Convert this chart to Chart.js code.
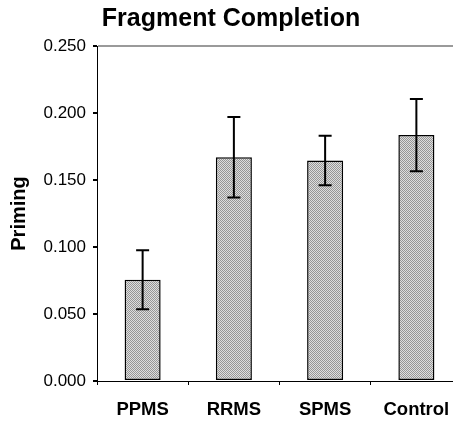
<!DOCTYPE html>
<html>
<head>
<meta charset="utf-8">
<script src="https://cdn.jsdelivr.net/npm/chart.js@4"></script>
<style>
  html, body { margin: 0; padding: 0; background: #fff; overflow: hidden; }
  #wrap { width: 453px; height: 421px; overflow: hidden; }
  #box { width: 470px; height: 421px; }
</style>
</head>
<body>
<div id="wrap"><div id="box"><canvas id="chart1"></canvas></div></div>
<script>
const groups = ['PPMS', 'RRMS', 'SPMS', 'Control'];
const priming = [0.0755, 0.167, 0.1645, 0.1835];
const errors = [0.022, 0.030, 0.0185, 0.027];
const yTicks = [0, 0.05, 0.1, 0.15, 0.2, 0.25];

// dithered grey fill like the original
const pc = document.createElement('canvas');
pc.width = 2; pc.height = 2;
const px = pc.getContext('2d');
px.fillStyle = '#dedede'; px.fillRect(0, 0, 2, 2);
px.fillStyle = '#969696'; px.fillRect(0, 0, 1, 1); px.fillRect(1, 1, 1, 1);
const fill = px.createPattern(pc, 'repeat');

const errorBars = {
  id: 'errorBars',
  afterDatasetsDraw(chart) {
    const c = chart.ctx;
    const y = chart.scales.y;
    const meta = chart.getDatasetMeta(0);
    c.save();
    c.strokeStyle = '#000';
    c.lineWidth = 2;
    meta.data.forEach((bar, i) => {
      const top = y.getPixelForValue(priming[i] + errors[i]);
      const bot = y.getPixelForValue(priming[i] - errors[i]);
      c.beginPath();
      c.moveTo(bar.x, top); c.lineTo(bar.x, bot);
      c.moveTo(bar.x - 6.5, top); c.lineTo(bar.x + 6.5, top);
      c.moveTo(bar.x - 6.5, bot); c.lineTo(bar.x + 6.5, bot);
      c.stroke();
    });
    c.restore();
  }
};

const ctx = document.getElementById('chart1').getContext('2d');
const chart = new Chart(ctx, {
  type: 'bar',
  data: {
    labels: groups,
    datasets: [{
      label: 'Priming',
      data: priming,
      backgroundColor: fill,
      borderColor: '#000',
      borderWidth: 1.5,
      borderSkipped: false,
      categoryPercentage: 1,
      barPercentage: 0.395
    }]
  },
  options: {
    responsive: true,
    maintainAspectRatio: false,
    animation: false,
    layout: { padding: { right: 8 } },
    plugins: {
      legend: { display: false },
      tooltip: { enabled: false },
      title: {
        display: true,
        text: 'Fragment Completion',
        color: '#000',
        font: { family: 'Liberation Sans', size: 25, weight: 'bold' },
        padding: { top: 4, bottom: 12 }
      }
    },
    scales: {
      x: {
        grid: { display: true, drawOnChartArea: false, tickLength: 4, tickColor: '#000', offset: true },
        border: { display: true, color: '#000', width: 1 },
        ticks: {
          color: '#000',
          padding: 14,
          font: { family: 'Liberation Sans', size: 18.5, weight: 'bold' }
        },
        afterFit(s) { s.height = 40; }
      },
      y: {
        min: 0,
        max: 0.25,
        afterBuildTicks(s) { s.ticks = yTicks.map(v => ({ value: v })); },
        grid: {
          drawOnChartArea: true,
          tickLength: 4,
          tickColor: '#000',
          color: c => (c.tick && c.tick.value === 0.25) ? '#9a9a9a' : 'rgba(0,0,0,0)',
          lineWidth: 2
        },
        border: { display: true, color: '#000', width: 1 },
        ticks: {
          color: '#000',
          padding: 7,
          font: { family: 'Liberation Sans', size: 17 },
          callback: v => Number(v).toFixed(3)
        },
        title: {
          display: true,
          text: 'Priming',
          color: '#000',
          padding: { top: 7, bottom: 0 },
          font: { family: 'Liberation Sans', size: 20, weight: 'bold' }
        },
        afterFit(s) { s.width = 97; }
      }
    }
  },
  plugins: [errorBars]
});
</script>
</body>
</html>
